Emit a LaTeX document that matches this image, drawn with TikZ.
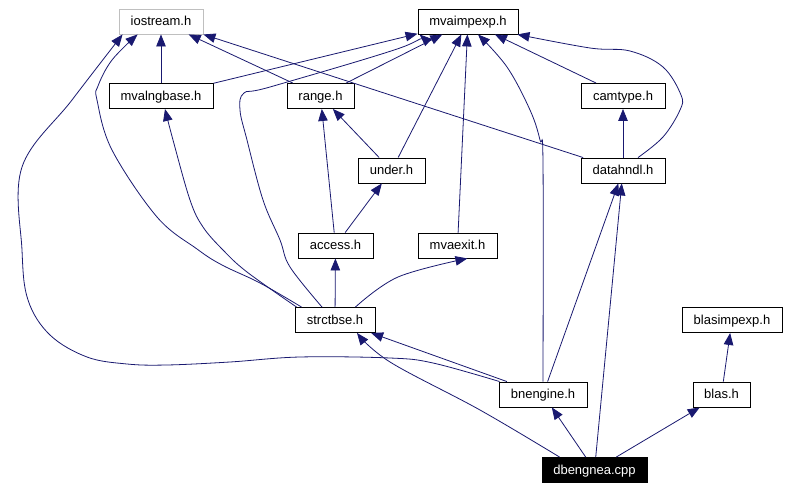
\documentclass[tikz,border=0pt]{standalone}
\usepackage{fontspec}
\setmainfont{Liberation Sans}
\usetikzlibrary{arrows.meta}
\definecolor{edgeblue}{HTML}{191970}
\definecolor{graybox}{HTML}{BFBFBF}
\begin{document}
\begin{tikzpicture}[x=1pt,y=-1pt,
  file/.style={draw=black, line width=0.9pt, minimum height=25pt, inner sep=0pt,
    text height=9.5pt, text depth=0.5pt, font=\fontsize{13}{15}\selectfont, fill=white},
  dep/.style={draw=edgeblue, line width=0.8pt, -{Triangle[length=12pt,width=9.5pt]}}]
\useasboundingbox[fill=white] (0,0) rectangle (788,489);
% nodes
\node[file, minimum width=84pt, draw=graybox] (iostream) at (161,21.5) {iostream.h};
\node[file, minimum width=100pt] (mvaimpexp) at (468,21.5) {mvaimpexp.h};
\node[file, minimum width=104pt] (mvalngbase) at (161,96) {mvalngbase.h};
\node[file, minimum width=67pt] (range) at (320.5,96) {range.h};
\node[file, minimum width=84pt] (camtype) at (623,96) {camtype.h};
\node[file, minimum width=67pt] (under) at (391.5,170.5) {under.h};
\node[file, minimum width=84pt] (datahndl) at (623,170.5) {datahndl.h};
\node[file, minimum width=75pt] (access) at (335.5,245.5) {access.h};
\node[file, minimum width=79pt] (mvaexit) at (457.5,245.5) {mvaexit.h};
\node[file, minimum width=80pt] (strctbse) at (335,320) {strctbse.h};
\node[file, minimum width=100pt] (blasimpexp) at (732,320) {blasimpexp.h};
\node[file, minimum width=88pt] (bnengine) at (543,394.5) {bnengine.h};
\node[file, minimum width=57pt] (blas) at (721.5,394.5) {blas.h};
\node[file, minimum width=105pt, fill=black, text=white] (dbengnea) at (594.5,470) {dbengnea.cpp};
% edges to iostream
\draw[dep] (mvalngbase) -- (iostream);
\draw[dep] (range) -- (iostream);
\draw[dep] (datahndl) -- (iostream.south east);
\draw[dep] plot[smooth, tension=0.6] coordinates {([xshift=7pt]strctbse.north west) (260,283) (222,265) (197,249) (157,217) (112,150) (97,100) (98,86) (112,60) ([xshift=19pt]iostream.south west)};
\draw[dep] plot[smooth, tension=0.6] coordinates {([xshift=1pt]bnengine.north west) (433,363) (390,358) (300,357) (230,362) (167,365) (127,364) (87,357) (50,335) (28,300) (22,250) (22,167) (72,100) ([xshift=4pt]iostream.south west)};
% edges to mvalngbase
\draw[dep] plot[smooth, tension=0.6] coordinates {([xshift=2pt]strctbse.north west) (247,272) (223,250) (203,227) (190,200) (173,140) ([xshift=4pt]mvalngbase.south)};
% edges to mvaimpexp
\draw[dep] (mvalngbase) -- (mvaimpexp);
\draw[dep] plot[smooth, tension=0.6] coordinates {([xshift=-13pt]strctbse.north) (290,267) (280,240) (263,200) (247,140) (240,110) (244,93) (270,87) (400,48) ([xshift=2pt]mvaimpexp.south west)};
\draw[dep] (range) -- (mvaimpexp);
\draw[dep] (under) -- (mvaimpexp);
\draw[dep] (mvaexit) -- (mvaimpexp);
\draw[dep] plot[smooth, tension=0.6] coordinates {(bnengine.north) (543,163) (540,140) (530,110) (507,67) ([xshift=10pt]mvaimpexp.south)};
\draw[dep] (camtype) -- (mvaimpexp);
\draw[dep] plot[smooth, tension=0.6] coordinates {([xshift=15pt]datahndl.north) (663,137) (680,110) (681,95) (663,67) (630,51) (590,48) ([xshift=-1pt]mvaimpexp.south east)};
% other edges
\draw[dep] (datahndl) -- (camtype);
\draw[dep] (access) -- (range);
\draw[dep] (under) -- (range);
\draw[dep] (access) -- (under);
\draw[dep] (strctbse) -- (access);
\draw[dep] plot[smooth, tension=0.6] coordinates {([xshift=-20pt]strctbse.north east) (398,277) ([xshift=-30pt]mvaexit.south east)};
\draw[dep] (bnengine) -- (strctbse);
\draw[dep] plot[smooth, tension=0.6] coordinates {([xshift=18pt]dbengnea.north west) (480,410) (390,362) ([xshift=22pt]strctbse.south)};
\draw[dep] (bnengine) -- (datahndl);
\draw[dep] (dbengnea) -- (datahndl);
\draw[dep] (dbengnea) -- (bnengine);
\draw[dep] (dbengnea) -- (blas);
\draw[dep] (blas) -- (blasimpexp);
\end{tikzpicture}
\end{document}
